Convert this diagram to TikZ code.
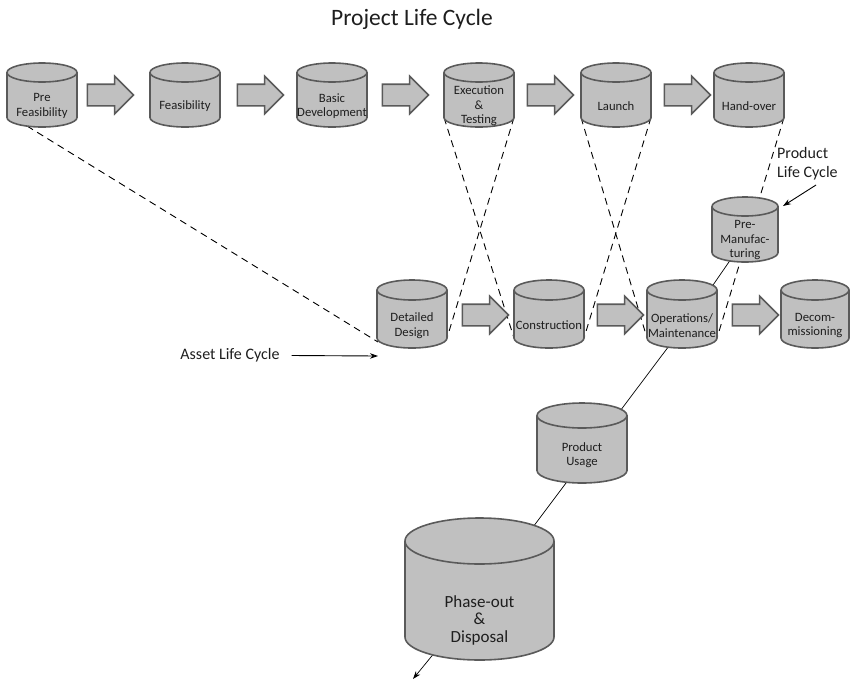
\documentclass[tikz,border=0pt]{standalone}
\usepackage{fontspec}
\setmainfont{Carlito}
\usetikzlibrary{shapes.arrows,arrows.meta,calc}
\pgfdeclarelayer{background}
\pgfsetlayers{background,main}

\definecolor{drumgray}{RGB}{192,192,192}
\definecolor{edgegray}{RGB}{90,90,90}
\definecolor{inkgray}{RGB}{30,30,30}

\tikzset{
  drumbody/.style={fill=drumgray,draw=edgegray,line width=1.6pt,line join=round},
  drumedge/.style={draw=edgegray,line width=1.6pt},
  drumbox/.style={inner sep=0pt,outer sep=0pt},
  drumtext/.style={align=center,text=inkgray,font=\fontsize{12.7}{14.5}\selectfont,inner sep=0pt},
  bigtext/.style={font=\fontsize{17}{17.5}\selectfont,yshift=-5pt},
  blockarrow/.style={single arrow,draw=edgegray,fill=drumgray,line width=1.6pt,
    minimum height=46pt,inner xsep=0pt,inner ysep=10pt,
    single arrow head extend=8pt,single arrow head indent=0pt},
  crossline/.style={draw=black,line width=0.9pt,dash pattern=on 7pt off 5pt},
  lifeline/.style={draw=black,line width=0.7pt},
  pointer/.style={draw=black,line width=0.9pt,-{Stealth[length=8pt,width=5.5pt]}},
  caption/.style={text=inkgray,font=\fontsize{16}{19}\selectfont,align=left,inner sep=1pt},
}

% \drum[text style]{name}{x}{y}{width}{height}{rim radius}{text}
\newcommand\drum[8][]{%
  \pgfmathsetmacro\drumrx{#5/2}%
  \pgfmathsetmacro\drumtop{#4+#6/2-#7}%
  \pgfmathsetmacro\drumbot{#4-#6/2+#7}%
  \pgfmathsetmacro\drumleft{#3-#5/2}%
  \pgfmathsetmacro\drumright{#3+#5/2}%
  \pgfmathsetmacro\drumtxt{#4-1.15*#7}%
  \filldraw[drumbody] (\drumleft,\drumtop) -- (\drumleft,\drumbot)
    arc[start angle=180,end angle=360,x radius=\drumrx pt,y radius=#7pt]
    -- (\drumright,\drumtop)
    arc[start angle=0,end angle=180,x radius=\drumrx pt,y radius=#7pt] -- cycle;
  \draw[drumedge] (\drumleft,\drumtop)
    arc[start angle=180,end angle=360,x radius=\drumrx pt,y radius=#7pt];
  \node[drumbox,minimum width=#5pt,minimum height=#6pt] (#2) at (#3,#4) {};
  \coordinate (#2-bl) at (\drumleft,\drumbot);
  \coordinate (#2-br) at (\drumright,\drumbot);
  \node[drumtext,#1] (#2-text) at (#3,\drumtxt) {#8};
}

\begin{document}
\begin{tikzpicture}[x=1pt,y=1pt]
\useasboundingbox (0,0) rectangle (851,-681);

\node[text=inkgray,font=\fontsize{23.5}{27}\selectfont] (title) at (412,-19) {Project Life Cycle};

% project phases
\drum{pre}{42}{-95}{70}{64}{9.5}{Pre\\Feasibility}
\drum{feas}{185}{-95}{70}{64}{9.5}{Feasibility}
\drum{basic}{332}{-95}{70}{64}{9.5}{Basic\\Development}
\drum{exec}{479}{-95}{70}{64}{9.5}{Execution\\\&\\Testing}
\drum{launch}{616}{-95}{70}{64}{9.5}{Launch}
\drum{hand}{749}{-95}{70}{64}{9.5}{Hand-over}

\node[blockarrow] (pa1) at (105,-95) {};
\node[blockarrow] (pa2) at (255,-95) {};
\node[blockarrow] (pa3) at (400,-95) {};
\node[blockarrow] (pa4) at (545,-95) {};
\node[blockarrow] (pa5) at (682,-95) {};

% asset phases
\drum{dd}{412}{-314}{70}{68}{10}{Detailed\\Design}
\drum{cons}{549}{-314}{70}{68}{10}{Construction}
\drum{ops}{682}{-314}{70}{68}{10}{Operations/\\Maintenance}
\drum{decom}{815}{-314}{68}{68}{10}{Decom-\\missioning}

\node[blockarrow] (aa1) at (480,-315) {};
\node[blockarrow] (aa2) at (615,-315) {};
\node[blockarrow] (aa3) at (750,-315) {};

% product phases
\drum{prem}{745}{-229.5}{66}{65}{9.5}{Pre-\\Manufac-\\turing}
\drum[yshift=2pt]{pu}{582}{-443}{90}{80}{12.5}{Product\\Usage}
\drum[bigtext]{phase}{479.5}{-589}{149}{142}{23}{Phase-out\\\&\\Disposal}

% links between the cycles
\coordinate (pstart) at ($(pre.south)+(-15,1)$);
\coordinate (ddend) at ($(dd.south west)+(1,6)$);
\coordinate (lifeend) at (413,-679);
\begin{pgfonlayer}{background}
  \draw[crossline] (pstart) -- (ddend);
  \draw[crossline] (exec-bl) -- (cons-bl);
  \draw[crossline] (exec-br) -- (dd-br);
  \draw[crossline] (launch-bl) -- (ops-bl);
  \draw[crossline] (launch-br) -- (cons-br);
  \draw[crossline] (hand-br) -- (ops-br);
  \draw[lifeline,-{Stealth[length=8pt,width=5.5pt]}] ($(prem.south)+(-14,3)$) -- ($(ops)+(11,0)$)
    -- ($(pu)+(14,0)$) -- ($(phase)+(7,0)$) -- (lifeend);
\end{pgfonlayer}

% captions
\node[caption,anchor=west] (plc) at (776,-163.5) {Product\\Life Cycle};
\coordinate (plctip) at (783,-206);
\draw[pointer] (816,-185) -- (plctip);

\node[caption] (alc) at (230,-355.5) {Asset Life Cycle};
\coordinate (alctip) at (378,-356);
\draw[pointer] ([xshift=11pt]alc.east) -- (alctip);
\end{tikzpicture}
\end{document}
